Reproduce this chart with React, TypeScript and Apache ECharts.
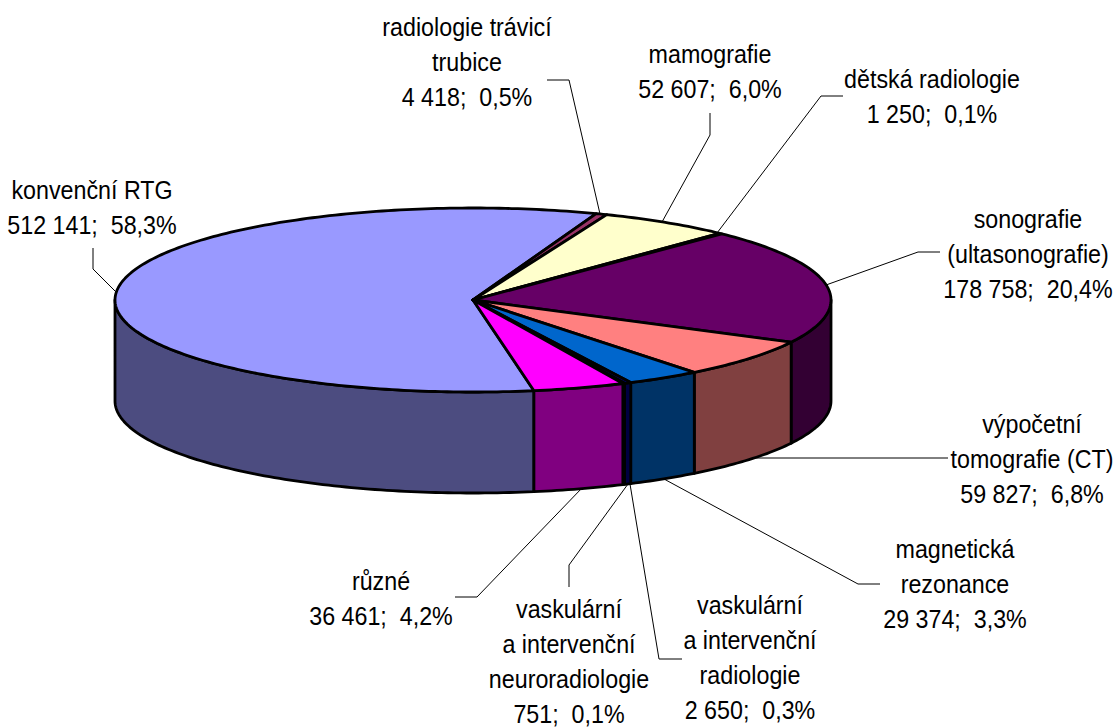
import React, { useEffect, useRef } from "react";
import * as echarts from "echarts";

const names = [
  "konvenční RTG",
  "radiologie trávicí\ntrubice",
  "mamografie",
  "dětská radiologie",
  "sonografie\n(ultasonografie)",
  "výpočetní\ntomografie (CT)",
  "magnetická\nrezonance",
  "vaskulární\na intervenční\nradiologie",
  "vaskulární\na intervenční\nneuroradiologie",
  "různé",
];
const values = [512141, 4418, 52607, 1250, 178758, 59827, 29374, 2650, 751, 36461];
const topColors = ["#9999FF", "#993366", "#FFFFCC", "#000000", "#660066", "#FF8080", "#0066CC", "#000080", "#000000", "#FF00FF"];
const sideColors = ["#4C4C80", "#4C1933", "#808066", "#000000", "#330033", "#804040", "#003366", "#000040", "#000000", "#800080"];

// layout
const CX = 473, CY = 300, RX = 358, RY = 92, DEPTH = 101;
const START_DEG = 170.2;
const labelPos: number[][] = [
  [92, 190], [467, 27], [710, 54], [932, 79], [1028, 219],
  [1032, 424], [955, 549], [750, 605], [569, 609], [381, 581],
];
const leaders: number[][][] = [
  [[93, 248], [93, 269], [116, 292]],
  [[547, 80], [569, 80], [600, 214]],
  [[710, 113], [710, 135], [662, 222]],
  [[843, 96], [821, 96], [717, 233]],
  [[940, 252], [918, 252], [826, 285]],
  [[948, 458], [752, 458]],
  [[880, 584], [858, 584], [664, 479]],
  [[682, 659], [659, 659], [630, 484]],
  [[569, 587], [569, 565], [628, 484]],
  [[455, 597], [477, 597], [582, 488]],
];

const total = values.reduce((a, b) => a + b, 0);
const fmtValue = (v: number) => String(v).replace(/\B(?=(\d{3})+$)/g, " ");
const fmtPct = (v: number) => ((v / total) * 100).toFixed(1).replace(".", ",") + "%";

const rad = (d: number) => (d * Math.PI) / 180;
const pt = (d: number, dy = 0) => [CX + RX * Math.sin(rad(d)), CY - RY * Math.cos(rad(d)) + dy];
const arc = (a: number, b: number, dy = 0) => {
  const n = Math.max(2, Math.ceil(Math.abs(b - a)) + 1);
  const out: number[][] = [];
  for (let i = 0; i <= n; i++) out.push(pt(a + ((b - a) * i) / n, dy));
  return out;
};

const FONT = "26px 'Liberation Sans', Arial, sans-serif";
const TEXT_SCALE = 0.895;
const LINE = 35;

export default function App() {
  const ref = useRef<HTMLDivElement>(null);
  useEffect(() => {
    document.body.style.margin = "0";
    const chart = echarts.init(ref.current!, undefined, { renderer: "svg" });
    const seriesData = names.map((n, i) => ({ name: n, value: values[i] }));

    const startOf = (i: number) => {
      let s = 0;
      for (let k = 0; k < i; k++) s += values[k];
      return START_DEG + (s / total) * 360;
    };

    const stroke = { stroke: "#000", lineWidth: 2.8, lineJoin: "round" as const };

    chart.setOption({
      animation: false,
      backgroundColor: "#fff",
      series: [
        {
          type: "custom",
          coordinateSystem: "none",
          silent: true,
          data: seriesData,
          z: 2,
          renderItem: (params: any, api: any) => {
            const i = params.dataIndex;
            const a0 = startOf(i);
            const a1 = a0 + (api.value(0) / total) * 360;
            const children: any[] = [];
            // visible outer wall: the front half of the ellipse, seen at 90..270 and again at 450..630
            for (const off of [0, 360]) {
              const s = Math.max(a0, 90 + off);
              const e = Math.min(a1, 270 + off);
              if (e > s) {
                children.push({
                  type: "polygon",
                  shape: { points: [...arc(s, e), ...arc(e, s, DEPTH)] },
                  style: { fill: sideColors[i], ...stroke },
                });
              }
            }
            return { type: "group", children };
          },
        },
        {
          type: "custom",
          coordinateSystem: "none",
          silent: true,
          data: seriesData,
          z: 3,
          renderItem: (params: any, api: any) => {
            const i = params.dataIndex;
            const a0 = startOf(i);
            const a1 = a0 + (api.value(0) / total) * 360;
            return {
              type: "polygon",
              shape: { points: [[CX, CY], ...arc(a0, a1)] },
              style: { fill: topColors[i], ...stroke },
            };
          },
        },
        {
          type: "custom",
          coordinateSystem: "none",
          silent: true,
          data: seriesData,
          z: 4,
          renderItem: (params: any, api: any) => {
            const i = params.dataIndex;
            const v = api.value(0);
            const text = `${names[i]}\n${fmtValue(v)};  ${fmtPct(v)}`;
            const lines = text.split("\n");
            return {
              type: "group",
              children: [
                {
                  type: "polyline",
                  shape: { points: leaders[i] },
                  style: { fill: "none", stroke: "#000", lineWidth: 1 },
                },
                ...lines.map((line, k) => ({
                  type: "text",
                  x: labelPos[i][0],
                  y: labelPos[i][1] + k * LINE,
                  scaleX: TEXT_SCALE,
                  style: {
                    text: line,
                    x: 0,
                    y: 0,
                    font: FONT,
                    fill: "#000",
                    align: "center",
                    verticalAlign: "middle",
                  },
                })),
              ],
            };
          },
        },
      ],
    });
    return () => chart.dispose();
  }, []);
  return <div ref={ref} style={{ position: "absolute", left: 0, top: 0, width: 1115, height: 727 }} />;
}
